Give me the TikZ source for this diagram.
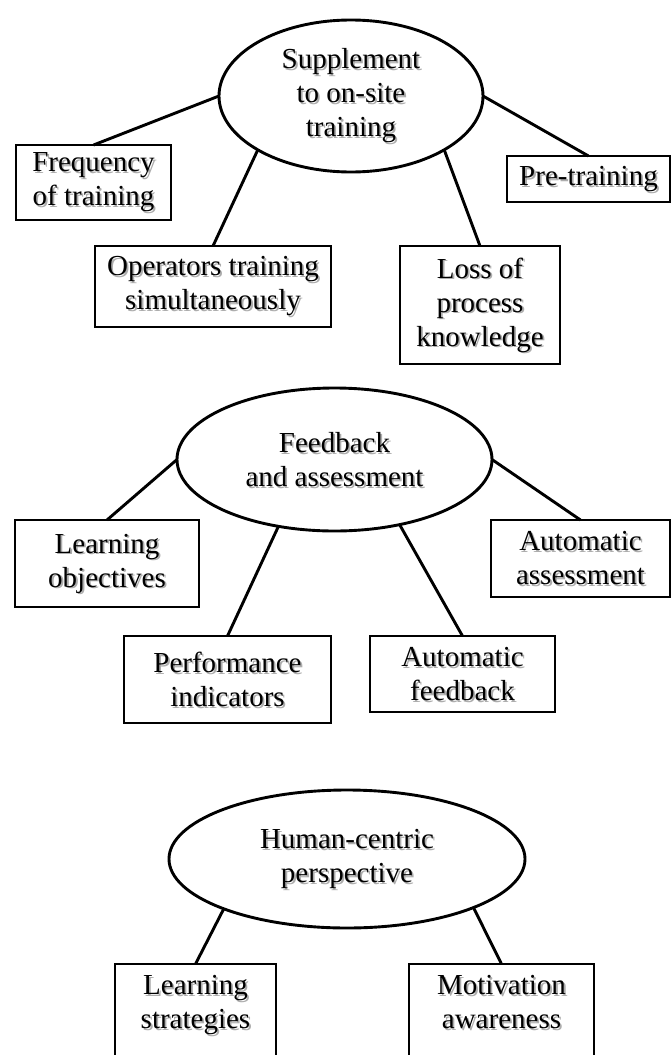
\documentclass[tikz,border=0pt]{standalone}
\usepackage{fontspec}
\setmainfont{Liberation Serif}
\usetikzlibrary{shapes.geometric}

% Draws a node together with a soft grey copy of its text just below-right of it
\newcommand\placenode[4]{%
  \node[#2, draw=none, text=black!32, xshift=1.8pt, yshift=-1.8pt] (#1-shadow) at (#3) {#4};
  \node[#2] (#1) at (#3) {#4};
}

\begin{document}
\begin{tikzpicture}[x=1pt, y=-1pt,
  base/.style={align=center, font=\fontsize{29}{34}\selectfont,
    inner sep=0pt, outer sep=0pt, line width=2.9pt},
  topic/.style={base, ellipse, draw},
  item/.style={base, rectangle, draw},
  link/.style={line width=2.9pt}]

\useasboundingbox (0,0) rectangle (672,1055);
\clip (0,0) rectangle (672,1055);

% --- Supplement to on-site training ---
\placenode{sup}{topic, minimum width=264pt, minimum height=152pt}{351,96}{Supplement\\to on-site\\training}
\placenode{freq}{item, minimum width=155pt, minimum height=75pt}{93.5,182.5}{Frequency\\of training}
\placenode{pre}{item, minimum width=163pt, minimum height=46pt}{588.5,179}{Pre-training}
\placenode{ops}{item, minimum width=236pt, minimum height=81pt}{213,286.5}{Operators training\\simultaneously}
\placenode{loss}{item, minimum width=160pt, minimum height=118pt}{480,305}{Loss of\\process\\knowledge}

\draw[link] (sup.west) -- (freq.north);
\draw[link] (sup.210) -- (ops.north);
\draw[link] (sup.330) -- (loss.north);
\draw[link] (sup.east) -- (pre.north);

% --- Feedback and assessment ---
\placenode{fb}{topic, minimum width=315pt, minimum height=143pt}{334.5,459.5}{Feedback\\and assessment}
\placenode{lo}{item, minimum width=184pt, minimum height=87pt}{107,563.5}{Learning\\objectives}
\placenode{aa}{item, minimum width=179pt, minimum height=77pt}{580.5,558.5}{Automatic\\assessment}
\placenode{pi}{item, minimum width=207pt, minimum height=87pt}{227.5,679.5}{Performance\\indicators}
\placenode{af}{item, minimum width=185pt, minimum height=76pt}{462.5,674}{Automatic\\feedback}

\draw[link] (fb.west) -- (lo.north);
\draw[link] (fb.230) -- (pi.north);
\draw[link] (fb.315) -- (af.north);
\draw[link] (fb.east) -- (aa.north);

% --- Human-centric perspective ---
\placenode{hc}{topic, minimum width=356pt, minimum height=138pt}{347,859}{Human-centric\\perspective}
\placenode{ls}{item, minimum width=161pt, minimum height=150pt}{195.5,1039}{Learning\\strategies\\[40pt]}
\placenode{ma}{item, minimum width=185pt, minimum height=150pt}{501.5,1039}{Motivation\\awareness\\[40pt]}

\draw[link] (hc.202) -- (ls.north);
\draw[link] (hc.339) -- (ma.north);

\end{tikzpicture}
\end{document}
